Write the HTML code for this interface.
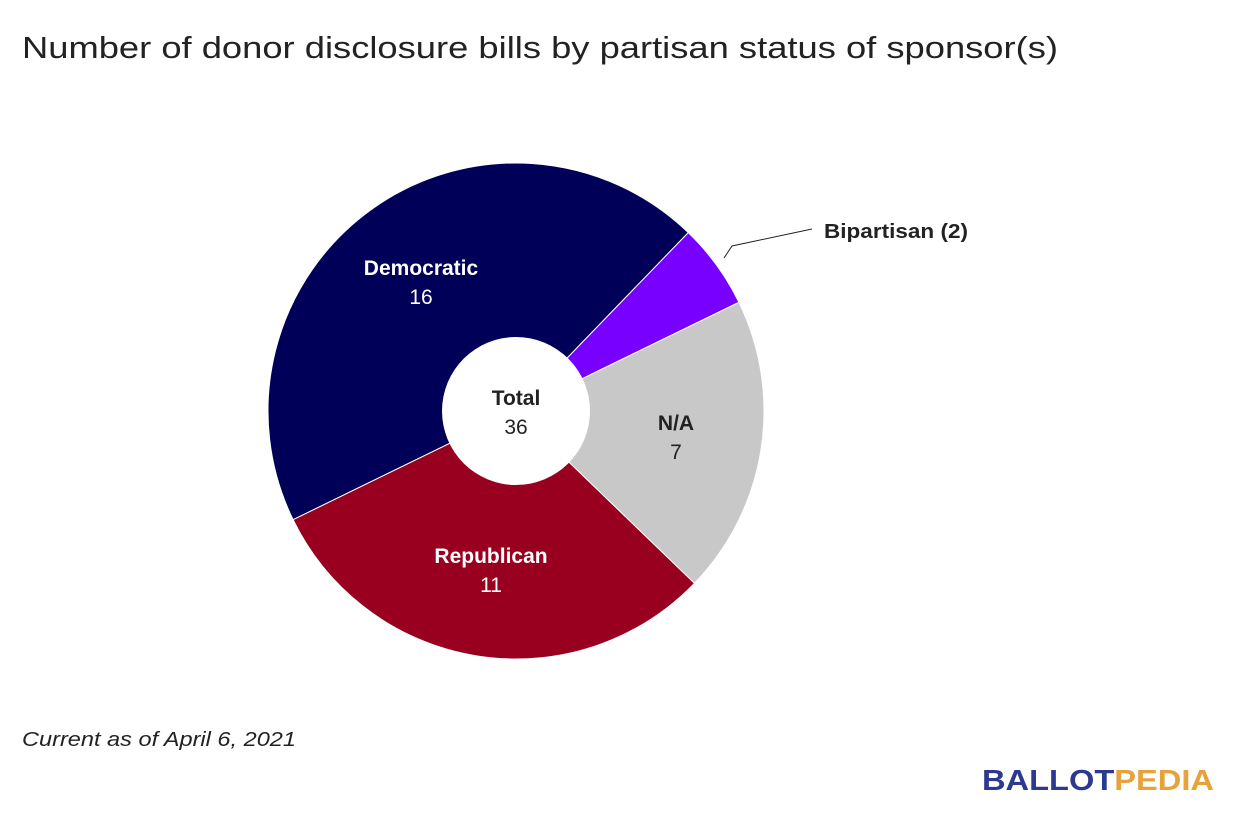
<!DOCTYPE html>
<html><head><meta charset="utf-8"><style>
body{margin:0;background:#fff;}
svg{display:block;font-family:"Liberation Sans",sans-serif;}
</style></head><body>
<svg width="1240" height="840" viewBox="0 0 1240 840">
<rect width="1240" height="840" fill="#fff"/>
<text x="22" y="58" font-size="31" fill="#222" textLength="1036" lengthAdjust="spacingAndGlyphs">Number of donor disclosure bills by partisan status of sponsor(s)</text>
<g stroke="#fff" stroke-width="1">
<path d="M516,411 L293.1,519.7 A248,248 0 0 1 688.3,232.6 Z" fill="#000058"/>
<path d="M516,411 L688.3,232.6 A248,248 0 0 1 738.9,302.3 Z" fill="#7700ff"/>
<path d="M516,411 L738.9,302.3 A248,248 0 0 1 694.4,583.3 Z" fill="#c8c8c8"/>
<path d="M516,411 L694.4,583.3 A248,248 0 0 1 293.1,519.7 Z" fill="#990020"/>
</g>
<circle cx="516" cy="411" r="74" fill="#fff"/>
<g font-size="21" text-anchor="middle">
<text x="421" y="275" fill="#fff" font-weight="bold">Democratic</text>
<text x="421" y="304" fill="#fff">16</text>
<text x="491" y="563" fill="#fff" font-weight="bold">Republican</text>
<text x="491" y="592" fill="#fff">11</text>
<text x="676" y="430" fill="#222" font-weight="bold">N/A</text>
<text x="676" y="459" fill="#222">7</text>
<text x="516" y="405" fill="#222" font-weight="bold">Total</text>
<text x="516" y="434" fill="#222">36</text>
</g>
<polyline points="724,258 732,246 812,229" fill="none" stroke="#222" stroke-width="1"/>
<text x="824" y="238" font-size="20" font-weight="bold" fill="#222" textLength="144" lengthAdjust="spacingAndGlyphs">Bipartisan (2)</text>
<text x="22" y="746" font-size="20" font-style="italic" fill="#222" textLength="274" lengthAdjust="spacingAndGlyphs">Current as of April 6, 2021</text>
<text x="982" y="790" font-size="29" font-weight="bold" textLength="232" lengthAdjust="spacingAndGlyphs"><tspan fill="#2b3990">BALLOT</tspan><tspan fill="#e8a23a">PEDIA</tspan></text>
</svg>
</body></html>
